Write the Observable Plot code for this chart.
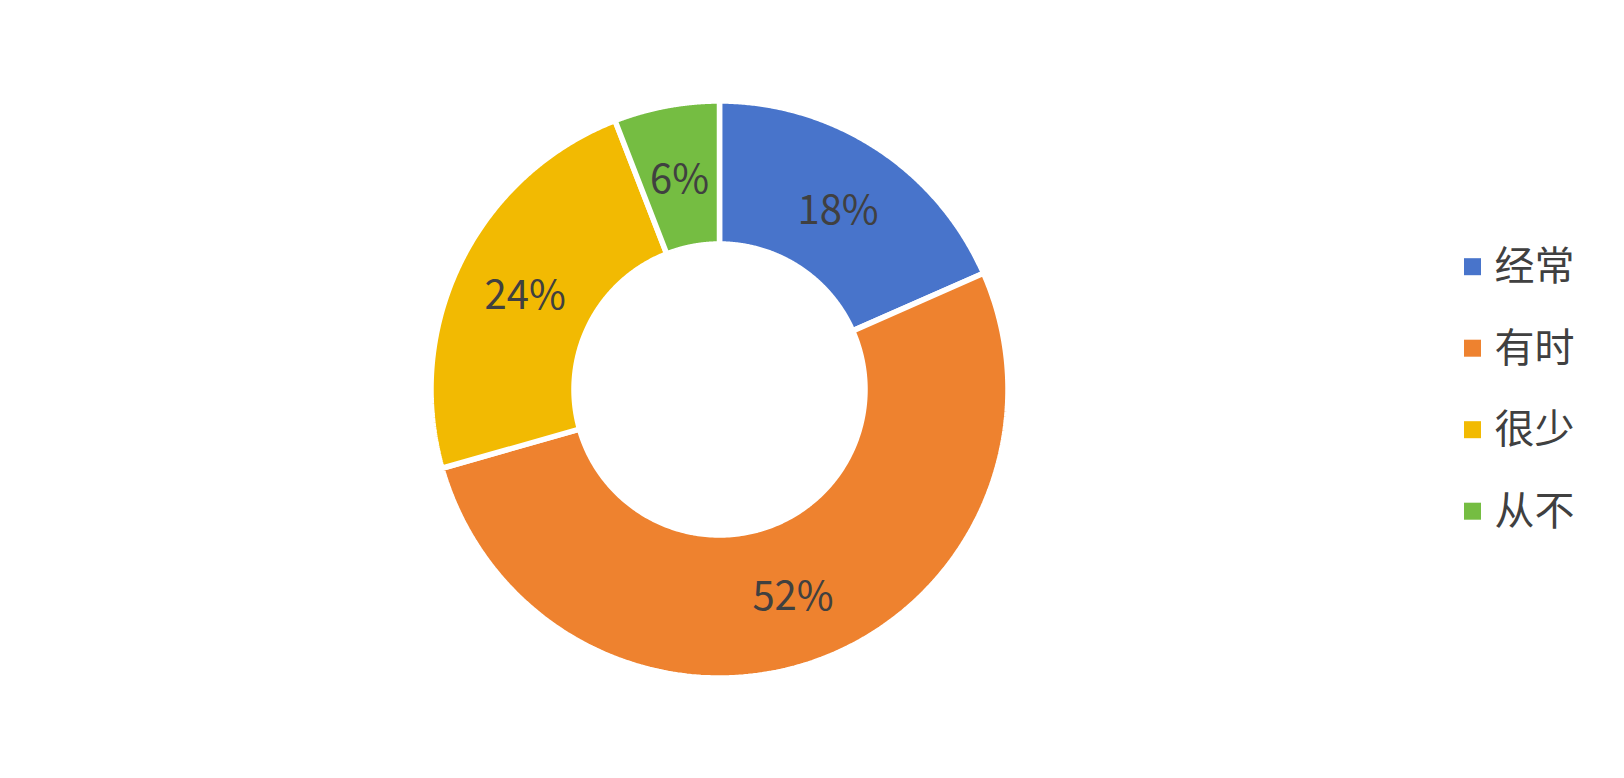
<!DOCTYPE html>
<html>
<head>
<meta charset="utf-8">
<script src="https://cdn.jsdelivr.net/npm/d3@7"></script>
<script src="https://cdn.jsdelivr.net/npm/@observablehq/plot@0.6"></script>
<style>
  html, body { margin: 0; padding: 0; background: #fff; overflow: hidden; }
</style>
</head>
<body>
<div id="chart"></div>
<script>
// ---- data ----
const categories = ["经常", "有时", "很少", "从不"];
const values = [18.4, 52.2, 23.5, 5.9];
const labels = ["18%", "52%", "24%", "6%"];
const colors = ["#4874CB", "#EE822F", "#F2BA02", "#75BD42"];

// ---- layout ----
const W = 1624, H = 778;
const cx = 719, cy = 389;          // ring centre (pixels)
const rOuter = 288.5, rInner = 145.5;
const gap = 5.5;                    // white separator
const legendX = 1464 - cx, legendTextX = 1494 - cx;
const legendY0 = cy - 266.7, legendStep = 81.5, legendSize = 17;
const textColor = "#404040";
const font = '"Noto Sans CJK SC", "Noto Sans", sans-serif';

// ---- build slice polygons from the data ----
const arcs = d3.pie().sort(null).value(d => d)(values);
const polys = [];
arcs.forEach((a, i) => {
  const n = 200;
  const pts = [];
  for (let k = 0; k <= n; k++) {
    const t = a.startAngle + (a.endAngle - a.startAngle) * k / n;
    pts.push({cat: categories[i], x: rOuter * Math.sin(t), y: rOuter * Math.cos(t)});
  }
  for (let k = n; k >= 0; k--) {
    const t = a.startAngle + (a.endAngle - a.startAngle) * k / n;
    pts.push({cat: categories[i], x: rInner * Math.sin(t), y: rInner * Math.cos(t)});
  }
  pts.push({...pts[0]});
  polys.push(...pts);
});

const rMid = (rOuter + rInner) / 2;
const labelRows = arcs.map((a, i) => {
  const t = (a.startAngle + a.endAngle) / 2;
  return {label: labels[i], x: rMid * Math.sin(t), y: rMid * Math.cos(t) - 3.5};
});

const legendRows = categories.map((c, i) => ({
  cat: c,
  yc: legendY0 - i * legendStep
}));

const chart = Plot.plot({
  width: W,
  height: H,
  margin: 0,
  style: {fontFamily: font, background: "#fff", overflow: "visible"},
  x: {domain: [-cx, W - cx], range: [0, W], axis: null},
  y: {domain: [cy - H, cy], range: [H, 0], axis: null},
  color: {domain: categories, range: colors},
  marks: [
    Plot.line(polys, {
      x: "x", y: "y", z: "cat", fill: "cat",
      stroke: "#fff", strokeWidth: gap, strokeLinejoin: "miter", curve: "linear"
    }),
    Plot.text(labelRows, {
      x: "x", y: "y", text: "label",
      fontSize: 40, fill: textColor, textAnchor: "middle", lineAnchor: "middle"
    }),
    Plot.rect(legendRows, {
      x1: () => legendX, x2: () => legendX + legendSize,
      y1: d => d.yc - legendSize / 2, y2: d => d.yc + legendSize / 2,
      fill: "cat"
    }),
    Plot.text(legendRows, {
      x: () => legendTextX, y: "yc", text: "cat",
      fontSize: 40, fill: textColor, textAnchor: "start", lineAnchor: "middle"
    })
  ]
});
document.getElementById("chart").appendChild(chart);
</script>
</body>
</html>
